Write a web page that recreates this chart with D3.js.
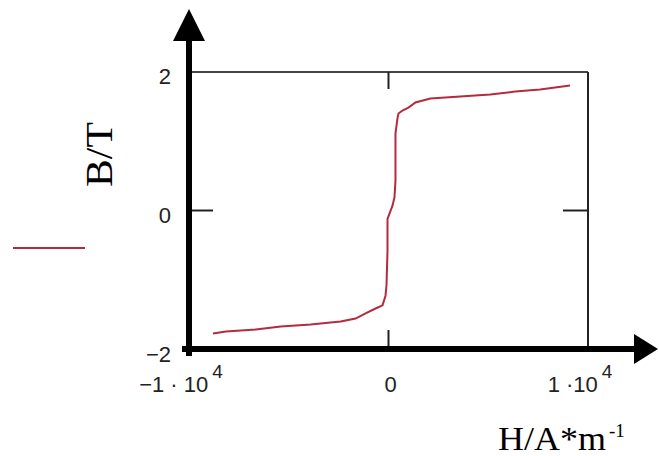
<!DOCTYPE html>
<html><head><meta charset="utf-8">
<script src="https://cdn.jsdelivr.net/npm/d3@7"></script>
<style>body{margin:0;background:#fff}svg{display:block}</style>
</head><body>
<svg id="c" width="659" height="456"></svg>
<script>
// Data: magnetisation curve B(H)
const H = [-8800,-8150,-6650,-5400,-3900,-2400,-1650,-1150,-650,-300,-150,-100,-50,-50,200,300,350,350,450,500,700,1000,1350,2100,3600,5100,6350,7600,9100];
const B = [-1.776,-1.747,-1.718,-1.675,-1.646,-1.603,-1.56,-1.487,-1.415,-1.37,-1.23,-1.08,-0.58,-0.12,0.07,0.19,0.43,1.11,1.33,1.40,1.444,1.487,1.56,1.617,1.646,1.675,1.718,1.747,1.805];
const xTicks = [-10000, 0, 10000];
const xTickMain = ["\u22121 \u00b7 10", "0", "1 \u00b710"];
const xTickSup = ["4", "", "4"];
const yTicks = [2, 0, -2];
const yTickLabels = ["2", "0", "\u22122"];
const xTitle = "H/A*m";
const xTitleSup = "-1";
const yTitle = "B/T";

const svg = d3.select("#c");
const x = d3.scaleLinear().domain([-10000, 10000]).range([189, 588]);
const y = d3.scaleLinear().domain([-2, 2]).range([349, 72]);
const col = "#b52a3c";
const tickFont = "'Liberation Sans', Arial, sans-serif";
const serif = "'Liberation Serif', 'Times New Roman', serif";

// frame (top & right)
svg.append("line").attr("x1", x(-10000)).attr("x2", x(10000)).attr("y1", y(2)).attr("y2", y(2))
  .attr("stroke", "#444").attr("stroke-width", 2);
svg.append("line").attr("x1", x(10000)).attr("x2", x(10000)).attr("y1", y(2)).attr("y2", y(-2))
  .attr("stroke", "#222").attr("stroke-width", 2);

// inner ticks
svg.append("line").attr("x1", x(0)).attr("x2", x(0)).attr("y1", y(2)).attr("y2", y(2) + 17).attr("stroke", "#222").attr("stroke-width", 2);
svg.append("line").attr("x1", x(0)).attr("x2", x(0)).attr("y1", y(-2)).attr("y2", y(-2) - 19).attr("stroke", "#222").attr("stroke-width", 2);
svg.append("line").attr("x1", x(-10000)).attr("x2", x(-10000) + 24).attr("y1", y(0)).attr("y2", y(0)).attr("stroke", "#222").attr("stroke-width", 2);
svg.append("line").attr("x1", x(10000)).attr("x2", x(10000) - 25).attr("y1", y(0)).attr("y2", y(0)).attr("stroke", "#222").attr("stroke-width", 2);

// curve
svg.append("path").datum(H.map((h, i) => [h, B[i]]))
  .attr("d", d3.line().x(d => x(d[0])).y(d => y(d[1])))
  .attr("fill", "none").attr("stroke", col).attr("stroke-width", 2);

// thick axes with arrows
svg.append("line").attr("x1", x(-10000)).attr("x2", x(-10000)).attr("y1", 38).attr("y2", 356)
  .attr("stroke", "#000").attr("stroke-width", 6);
svg.append("path").attr("d", `M${x(-10000)},9 L${x(-10000) - 16},41 L${x(-10000) + 16},41 Z`).attr("fill", "#000");
svg.append("line").attr("x1", 182).attr("x2", 637).attr("y1", y(-2)).attr("y2", y(-2))
  .attr("stroke", "#000").attr("stroke-width", 6);
svg.append("path").attr("d", `M658,${y(-2)} L634,${y(-2) - 15} L634,${y(-2) + 15} Z`).attr("fill", "#000");

// y tick labels
const yOff = [12, 12, 13];
svg.selectAll("text.yt").data(yTicks).join("text").attr("class", "yt")
  .attr("x", 171).attr("y", (d, i) => y(d) + yOff[i])
  .attr("text-anchor", "end").attr("font-family", tickFont).attr("font-size", 22).attr("fill", "#222")
  .text((d, i) => yTickLabels[i]);

// x tick labels
const xOff = [-8, 2, -8];
xTicks.forEach((v, i) => {
  const t = svg.append("text").attr("x", x(v) + xOff[i]).attr("y", 392)
    .attr("text-anchor", "middle").attr("font-family", tickFont).attr("font-size", 22).attr("fill", "#222");
  t.append("tspan").text(xTickMain[i]);
  if (xTickSup[i]) t.append("tspan").attr("dx", 4).attr("dy", -14).attr("font-size", 19).text(xTickSup[i]);
});

// axis titles
svg.append("text").attr("transform", "translate(112,154.5) rotate(-90)")
  .attr("text-anchor", "middle").attr("font-family", serif).attr("font-size", 37).attr("fill", "#000")
  .attr("textLength", 65).attr("lengthAdjust", "spacingAndGlyphs").text(yTitle);
svg.append("text").attr("x", 498).attr("y", 450).attr("font-family", serif).attr("font-size", 33).attr("fill", "#000")
  .attr("textLength", 108).attr("lengthAdjust", "spacingAndGlyphs").text(xTitle);
svg.append("text").attr("x", 609).attr("y", 437).attr("font-family", serif).attr("font-size", 19).attr("fill", "#000")
  .text(xTitleSup);

// legend
svg.append("line").attr("x1", 13).attr("x2", 85).attr("y1", 248).attr("y2", 248).attr("stroke", col).attr("stroke-width", 2);
</script>
</body></html>
